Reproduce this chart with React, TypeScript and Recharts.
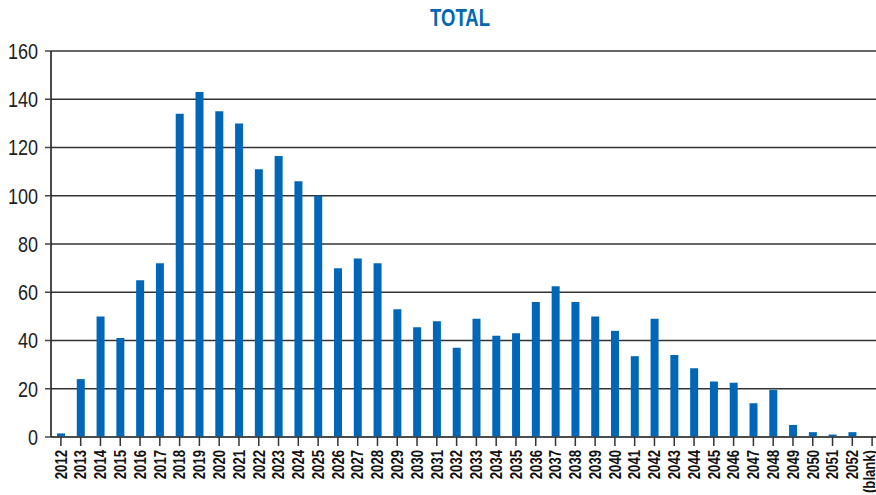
import { BarChart, Bar, XAxis, YAxis, CartesianGrid } from "recharts";

const years = [
  "2012", "2013", "2014", "2015", "2016", "2017", "2018", "2019", "2020", "2021",
  "2022", "2023", "2024", "2025", "2026", "2027", "2028", "2029", "2030", "2031",
  "2032", "2033", "2034", "2035", "2036", "2037", "2038", "2039", "2040", "2041",
  "2042", "2043", "2044", "2045", "2046", "2047", "2048", "2049", "2050", "2051",
  "2052", "(blank)",
];

const totals = [
  1.5, 24, 50, 41, 65, 72, 134, 143, 135, 130,
  111, 116.5, 106, 100, 70, 74, 72, 53, 45.5, 48,
  37, 49, 42, 43, 56, 62.5, 56, 50, 44, 33.5,
  49, 34, 28.5, 23, 22.5, 14, 19.5, 5, 2, 1,
  2, 0,
];

const yTicks = [0, 20, 40, 60, 80, 100, 120, 140, 160];

const data = years.map((year, i) => ({ year, total: totals[i] }));

const font = "'Liberation Sans', Arial, sans-serif";

// arial narrow isn't around, so squeeze liberation sans instead
function YearTick({ x, y, payload }: any) {
  // last label sits against the right edge, nudge it in so it stays readable
  const shift = payload.value === "(blank)" ? -3 : 0;
  return (
    <g transform={`translate(${x + shift},${y})`}>
      <text
        x={0}
        y={0}
        dy="0.36em"
        transform="rotate(-90) scale(0.82,1)"
        textAnchor="end"
        fontFamily={font}
        fontWeight="bold"
        fontSize={16}
        fill="#111"
      >
        {payload.value}
      </text>
    </g>
  );
}

function ValueTick({ x, y, payload }: any) {
  return (
    <g transform={`translate(${x},${y})`}>
      <text
        x={0}
        y={0}
        dy="0.36em"
        transform="scale(0.82,1)"
        textAnchor="end"
        fontFamily={font}
        fontSize={22}
        fill="#222"
      >
        {payload.value}
      </text>
    </g>
  );
}

export default function App() {
  return (
    <div style={{ position: "absolute", left: 0, top: 0, width: 876, height: 495, overflow: "hidden", background: "#fff" }}>
      <div
        style={{
          position: "absolute",
          left: 360,
          top: 4,
          width: 200,
          textAlign: "center",
          fontFamily: font,
          fontWeight: "bold",
          fontSize: 24,
          color: "#0066b3",
          transform: "scaleX(0.77)",
        }}
      >
        TOTAL
      </div>
      <BarChart
        width={884}
        height={495}
        data={data}
        margin={{ top: 51, right: 2, bottom: 0, left: 0 }}
        barSize={8}
      >
        <CartesianGrid vertical={false} stroke="#333" strokeWidth={1.5} />
        <XAxis
          dataKey="year"
          interval={0}
          height={58}
          tickSize={9}
          tickMargin={4}
          tick={<YearTick />}
          axisLine={{ stroke: "#444", strokeWidth: 1.5 }}
          tickLine={{ stroke: "#333", strokeWidth: 1.5 }}
        />
        <YAxis
          width={51}
          domain={[0, 160]}
          ticks={yTicks}
          interval={0}
          tickSize={6}
          tickMargin={7}
          tick={<ValueTick />}
          axisLine={{ stroke: "#111", strokeWidth: 1.5 }}
          tickLine={{ stroke: "#444", strokeWidth: 1.5 }}
        />
        <Bar dataKey="total" fill="#0067b8" isAnimationActive={false} />
      </BarChart>
    </div>
  );
}
